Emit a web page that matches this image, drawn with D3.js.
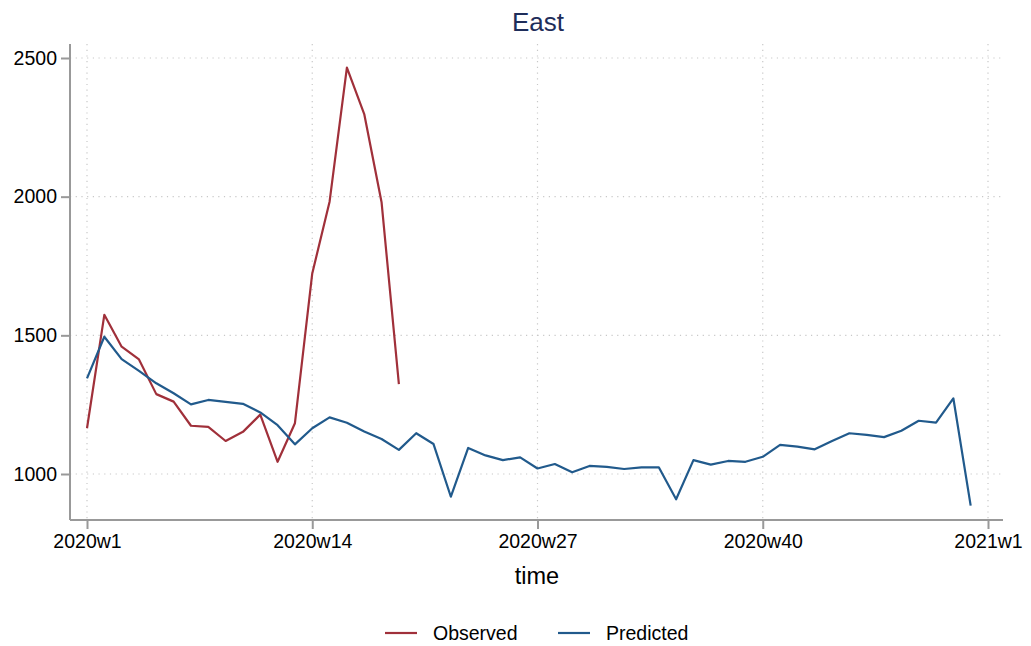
<!DOCTYPE html>
<html>
<head>
<meta charset="utf-8">
<script src="https://cdn.jsdelivr.net/npm/d3@7"></script>
<style>
  html, body { margin: 0; padding: 0; background: #fff; }
  svg { display: block; font-family: "Liberation Sans", Arial, sans-serif; }
</style>
</head>
<body>
<svg id="chart" width="1031" height="646"></svg>
<script>
const title = "East";
const xTitle = "time";
const seriesNames = ["Observed", "Predicted"];
const seriesColors = ["#a0303a", "#215a8c"];
const xTickWeeks = [1, 14, 27, 40, 53];
const xTickLabels = ["2020w1", "2020w14", "2020w27", "2020w40", "2021w1"];
const yTicks = [1000, 1500, 2000, 2500];

const observedWeeks = [1,2,3,4,5,6,7,8,9,10,11,12,13,14,15,16,17,18,19];
const observedValues = [1165,1574,1459,1413,1288,1261,1174,1170,1119,1152,1214,1044,1183,1723,1982,2465,2298,1980,1324];

const predictedWeeks = [1,2,3,4,5,6,7,8,9,10,11,12,13,14,15,16,17,18,19,20,21,22,23,24,25,26,27,28,29,30,31,32,33,34,35,36,37,38,39,40,41,42,43,44,45,46,47,48,49,50,51,52];
const predictedValues = [1345,1495,1414,1372,1327,1291,1251,1267,1260,1253,1222,1176,1107,1165,1204,1185,1153,1126,1087,1147,1108,918,1094,1067,1050,1060,1020,1036,1006,1029,1026,1018,1024,1024,909,1050,1034,1047,1044,1062,1105,1099,1089,1119,1147,1141,1133,1156,1192,1185,1273,886];

const svg = d3.select("#chart");
const plot = { left: 70, right: 1003, top: 44, bottom: 520 };
const fs = 19.5;

const x = d3.scaleLinear().domain([1, 53]).range([87, 988]);
const y = d3.scaleLinear().domain([1000, 2500]).range([474, 58]);

// gridlines
const grid = svg.append("g");
grid.selectAll("line.hy").data(yTicks).join("line")
  .attr("x1", plot.left).attr("x2", plot.right)
  .attr("y1", d => y(d)).attr("y2", d => y(d))
  .attr("stroke", "#c8c8c8").attr("stroke-width", 1.2)
  .attr("stroke-dasharray", "1.2,4.5");
grid.selectAll("line.vx").data(xTickWeeks).join("line")
  .attr("y1", plot.top).attr("y2", plot.bottom)
  .attr("x1", d => x(d)).attr("x2", d => x(d))
  .attr("stroke", "#c8c8c8").attr("stroke-width", 1.2)
  .attr("stroke-dasharray", "1.2,4.5");

// axes
const yAxis = d3.axisLeft(y).tickValues(yTicks).tickSize(9).tickPadding(4).tickFormat(d3.format("d"));
const gy = svg.append("g").attr("transform", `translate(${plot.left},0)`).call(yAxis);
gy.select(".domain").remove();
gy.append("line").attr("x1", 0).attr("x2", 0).attr("y1", plot.top).attr("y2", plot.bottom)
  .attr("stroke", "#999").attr("stroke-width", 2);
gy.selectAll(".tick line").attr("stroke", "#999").attr("stroke-width", 2);
gy.selectAll(".tick text").attr("fill", "#000").attr("font-size", fs)
  .attr("font-family", "Liberation Sans, Arial, sans-serif");

const xAxis = d3.axisBottom(x).tickValues(xTickWeeks).tickSize(9).tickPadding(5)
  .tickFormat((d, i) => xTickLabels[i]);
const gx = svg.append("g").attr("transform", `translate(0,${plot.bottom})`).call(xAxis);
gx.select(".domain").remove();
gx.append("line").attr("x1", plot.left).attr("x2", plot.right).attr("y1", 0).attr("y2", 0)
  .attr("stroke", "#999").attr("stroke-width", 2);
gx.selectAll(".tick line").attr("stroke", "#999").attr("stroke-width", 2);
gx.selectAll(".tick text").attr("fill", "#000").attr("font-size", fs)
  .attr("font-family", "Liberation Sans, Arial, sans-serif");

// lines
const line = d3.line().x(d => x(d[0])).y(d => y(d[1]));
const obs = observedWeeks.map((w, i) => [w, observedValues[i]]);
const pred = predictedWeeks.map((w, i) => [w, predictedValues[i]]);

svg.append("path").datum(obs).attr("d", line)
  .attr("fill", "none").attr("stroke", seriesColors[0]).attr("stroke-width", 2.2)
  .attr("stroke-linejoin", "round");
svg.append("path").datum(pred).attr("d", line)
  .attr("fill", "none").attr("stroke", seriesColors[1]).attr("stroke-width", 2.2)
  .attr("stroke-linejoin", "round");

// title
svg.append("text").attr("x", 538).attr("y", 31).attr("text-anchor", "middle")
  .attr("font-size", 26).attr("fill", "#1e2d5a").text(title);

// x title
svg.append("text").attr("x", 537).attr("y", 584).attr("text-anchor", "middle")
  .attr("font-size", 23.5).attr("fill", "#000").text(xTitle);

// legend
const legendItems = [
  { name: seriesNames[0], color: seriesColors[0], x0: 385 },
  { name: seriesNames[1], color: seriesColors[1], x0: 558 }
];
const lg = svg.append("g");
legendItems.forEach(it => {
  lg.append("line").attr("x1", it.x0).attr("x2", it.x0 + 32).attr("y1", 633).attr("y2", 633)
    .attr("stroke", it.color).attr("stroke-width", 2.2);
  lg.append("text").attr("x", it.x0 + 48).attr("y", 640).attr("font-size", fs)
    .attr("fill", "#000").text(it.name);
});
</script>
</body>
</html>
